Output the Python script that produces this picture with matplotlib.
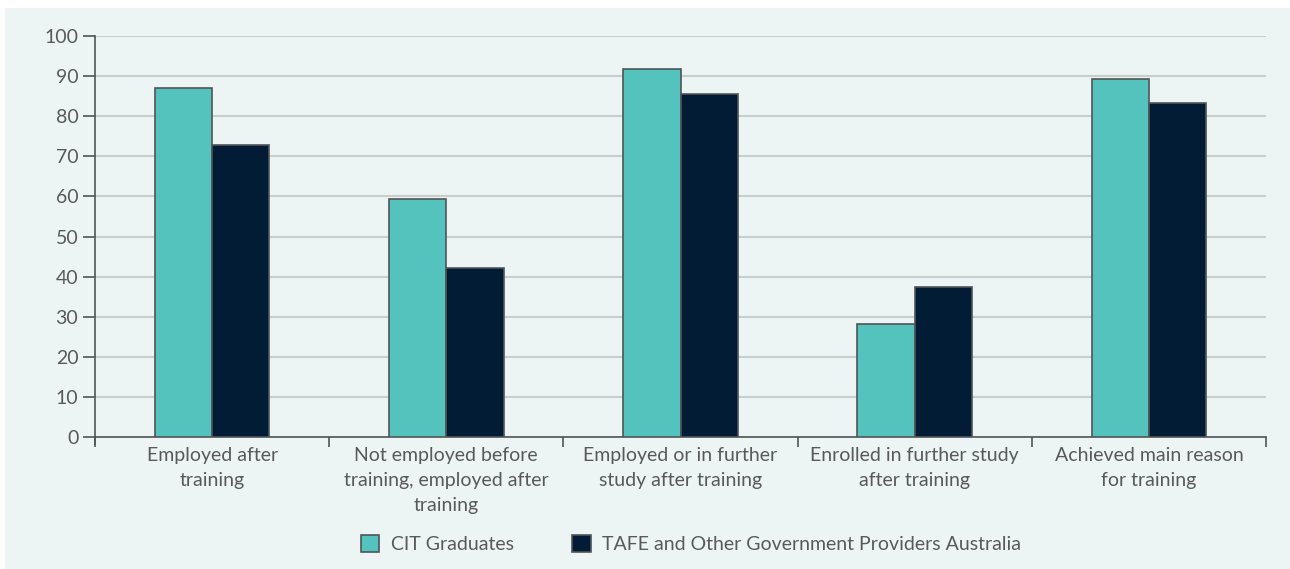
import matplotlib
matplotlib.use('Agg')
from matplotlib import pyplot as plt
from matplotlib.patches import Rectangle
import numpy as np

# chart data
categories = ['Employed after\ntraining',
              'Not employed before\ntraining, employed after\ntraining',
              'Employed or in further\nstudy after training',
              'Enrolled in further study\nafter training',
              'Achieved main reason\nfor training']
cit = [87.0, 59.4, 91.8, 28.2, 89.3]
tafe = [72.9, 42.1, 85.5, 37.4, 83.3]
series_names = ['CIT Graduates', 'TAFE and Other Government Providers Australia']

teal = '#55c3bd'
navy = '#021c36'
text_col = '#595959'
edge_col = '#505558'

plt.rcParams['font.family'] = ['Lato', 'DejaVu Sans']

fig = plt.figure(figsize=(12.9, 5.69), dpi=100, facecolor='white')
# light panel behind everything
fig.patches.append(Rectangle((5 / 1290, 0), 1 - 5 / 1290, 1 - 8 / 569,
                             transform=fig.transFigure, facecolor='#ecf5f4',
                             edgecolor='none', zorder=-5))

ax = fig.add_axes([95 / 1290, 1 - 437 / 569, (1266 - 95) / 1290, 401 / 569])
ax.set_facecolor('none')

x = np.arange(len(categories))
w = 0.245
ax.bar(x - w / 2, cit, w, color=teal, edgecolor=edge_col, linewidth=1.2,
       label=series_names[0], zorder=3)
ax.bar(x + w / 2, tafe, w, color=navy, edgecolor=edge_col, linewidth=1.2,
       label=series_names[1], zorder=3)

ax.set_xlim(-0.5, len(categories) - 0.5)
ax.set_ylim(0, 100)
ax.set_yticks(np.arange(0, 101, 10))
ax.yaxis.grid(True, color='#c9cecd', linewidth=1.5, zorder=1)
ax.set_axisbelow(True)

ax.set_xticks(x)
ax.set_xticklabels(categories, fontsize=14, color=text_col, linespacing=1.58)
ax.set_xticks(np.arange(-0.5, len(categories), 1), minor=True)
ax.tick_params(axis='x', which='major', length=0, pad=7)
ax.tick_params(axis='x', which='minor', length=7, width=1.2, color=edge_col,
               direction='out')
ax.tick_params(axis='y', length=9, width=1.2, color=edge_col, pad=3,
               labelsize=14, labelcolor=text_col)

for s in ['top', 'right']:
    ax.spines[s].set_visible(False)
for s in ['left', 'bottom']:
    ax.spines[s].set_color(edge_col)
    ax.spines[s].set_linewidth(1.2)
ax.spines['left'].set_bounds(-1.8, 100)

ax.legend(loc='center', bbox_to_anchor=(0.509, -0.267), ncol=2, frameon=False,
          fontsize=14, labelcolor=text_col, handlelength=0.95,
          handleheight=0.95, handletextpad=0.6, columnspacing=3.0)

fig.savefig('out.png', dpi=100, facecolor='white')
